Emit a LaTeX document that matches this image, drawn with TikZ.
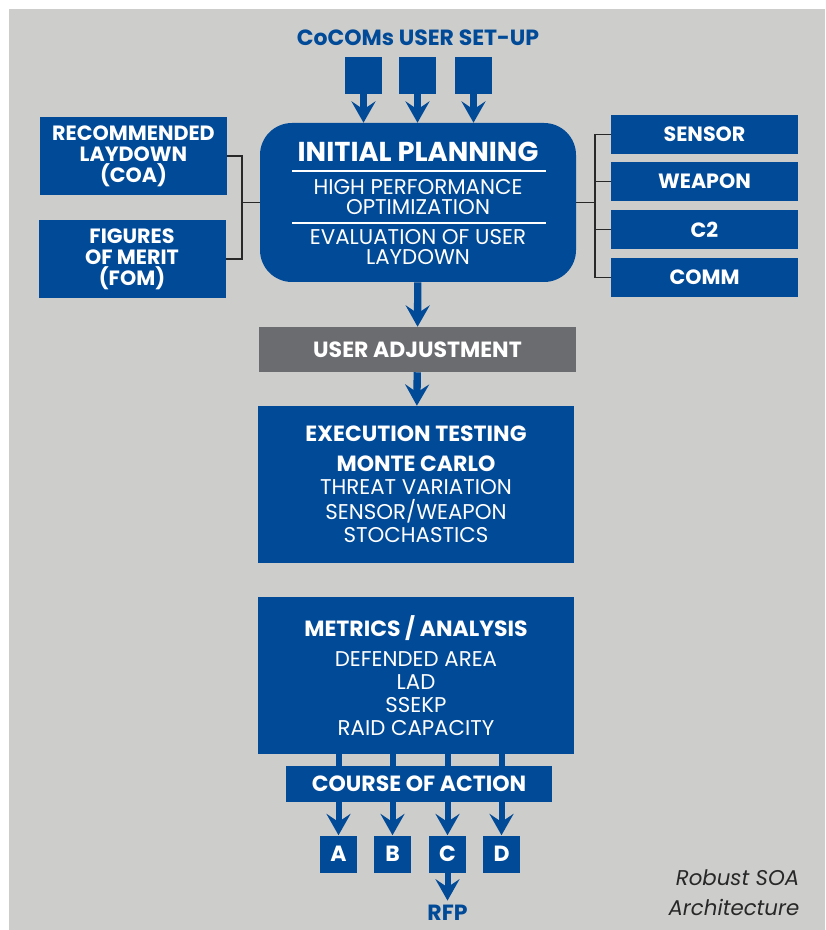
\documentclass[tikz,border=0pt]{standalone}
\usepackage{fontspec}
\setmainfont{Poppins}
\usetikzlibrary{arrows.meta}
\definecolor{soablue}{RGB}{0,74,152}
\definecolor{soagray}{RGB}{205,205,203}
\definecolor{adjgray}{RGB}{107,108,112}
\definecolor{linegray}{RGB}{40,40,40}
\newcommand{\plainsize}{\fontsize{16}{17.25}\selectfont}
\newcommand{\heavysize}{\fontsize{16.5}{17.25}\selectfont\bfseries}
\begin{document}
\begin{tikzpicture}[x={0.75pt}, y={-0.75pt},
    box/.style={fill=soablue, text=white, align=center, inner sep=0pt},
    heavy/.style={font=\heavysize},
    small/.style={font=\fontsize{15.5}{15.75}\selectfont\bfseries},
    plain/.style={font=\plainsize},
    arr/.style={draw=soablue, line width=5.5pt, -{Stealth[length=16pt, width=18pt, inset=6pt]}},
    tie/.style={draw=linegray, line width=1.1pt}]
    \useasboundingbox (0,0) rectangle (825,930);
    \fill[soagray] (9,9) rectangle (825,930);
    % top
    \node[text=soablue, heavy] (setup) at (418,38) {CoCOMs USER SET-UP};
    \foreach \x [count=\i] in {363.5,417.5,473.5} {
        \node[box, minimum size=27.75pt] (u\i) at (\x,75.5) {};
    }
    \node[box, rounded corners=24pt, minimum width=237pt, minimum height=119.25pt] (plan) at (418,202.5) {};
    \foreach \i in {1,2,3} {
        \draw[arr] (u\i) -- (u\i |- plan.north);
    }
    \node[text=white, font=\fontsize{20.5}{22}\selectfont\bfseries] (plantitle) at (418,152) {INITIAL PLANNING};
    \node[text=white, font=\fontsize{16}{15}\selectfont, align=center] (hpo) at (418,197) {HIGH PERFORMANCE\\OPTIMIZATION};
    \node[text=white, font=\fontsize{16}{15}\selectfont, align=center] (eval) at (418,247) {EVALUATION OF USER\\LAYDOWN};
    \draw[white, line width=0.9pt] (292,171) -- (546,171);
    \draw[white, line width=0.9pt] (292,223) -- (546,223);
    % left
    \node[box, small, minimum width=140.25pt, minimum height=58.5pt] (coa) at (133.5,156) {RECOMMENDED\\LAYDOWN\\(COA)};
    \node[box, small, minimum width=140.25pt, minimum height=58.5pt] (fom) at (132,259) {FIGURES\\OF MERIT\\(FOM)};
    \coordinate (lj) at (242,202.5);
    \draw[tie] (coa.east) -| (lj) |- (fom.east);
    \draw[tie] (lj) -- (plan.west);
    % right
    \foreach \y/\t [count=\i] in {134.5/SENSOR,181.5/WEAPON,229.5/C2,277.5/COMM} {
        \node[box, small, minimum width=140.25pt, minimum height=29.25pt] (r\i) at (704.5,\y) {\t};
    }
    \coordinate (rj) at (595,202.5);
    \draw[tie] (r1.west) -| (rj) |- (r4.west);
    \draw[tie] (rj |- r2) -- (r2.west);
    \draw[tie] (rj |- r3) -- (r3.west);
    \draw[tie] (plan.east) -- (rj);
    % middle
    \node[box, fill=adjgray, heavy, minimum width=237.75pt, minimum height=33.75pt] (adjust) at (417.5,349.5) {USER ADJUSTMENT};
    \node[box, plain, minimum width=237pt, minimum height=117.75pt] (exec) at (416,484.5)
        {{\heavysize EXECUTION TESTING}\\[5.5pt]
         {\heavysize MONTE CARLO}\\
         THREAT VARIATION\\[1.5pt]
         SENSOR/WEAPON\\
         STOCHASTICS};
    \node[box, plain, minimum width=237pt, minimum height=117.75pt] (metrics) at (416,675.5)
        {{\heavysize METRICS / ANALYSIS}\\[5.5pt]
         DEFENDED AREA\\
         LAD\\
         SSEKP\\
         RAID CAPACITY};
    \draw[arr] (plan) -- (adjust);
    \draw[arr] (adjust) -- (exec);
    % bottom
    \node[box, heavy, minimum width=199.5pt, minimum height=27pt] (action) at (419,784) {COURSE OF ACTION};
    \foreach \x/\t [count=\i] in {338.5/A,392.5/B,447.5/C,501.5/D} {
        \node[box, heavy, minimum size=27.75pt] (l\i) at (\x,854) {\t};
        \draw[soablue, line width=4.5pt] (l\i |- metrics.south) -- (l\i |- action.north);
        \draw[arr, line width=4.5pt] (l\i |- action.south) -- (l\i);
    }
    \node[text=soablue, heavy] (rfp) at (447.5,913) {RFP};
    \draw[arr, line width=4.5pt] (l3) -- (rfp);
    \node[anchor=east, align=right, text=linegray, font=\fontsize{16}{22.5}\selectfont\itshape] (caption) at (804,893) {Robust SOA\\Architecture};
\end{tikzpicture}
\end{document}
